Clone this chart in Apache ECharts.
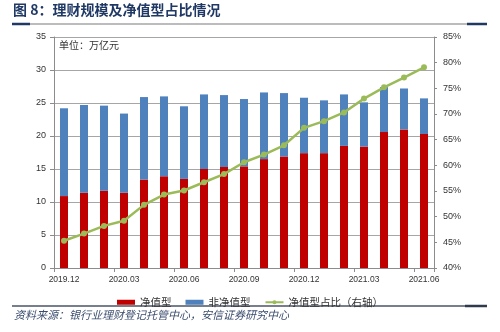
<!DOCTYPE html>
<html>
<head>
<meta charset="utf-8">
<script src="https://cdn.jsdelivr.net/npm/echarts@6/dist/echarts.min.js"></script>
<style>
  html, body { margin: 0; padding: 0; background: #fff; }
  #chart { width: 500px; height: 332px; }
</style>
</head>
<body>
<div id="chart"></div>
<script>
// Monthly periods, 2019.12 – 2021.06
const months = ['2019.12','2020.01','2020.02','2020.03','2020.04','2020.05','2020.06',
  '2020.07','2020.08','2020.09','2020.10','2020.11','2020.12','2021.01','2021.02',
  '2021.03','2021.04','2021.05','2021.06'];

// Net-value products (万亿元)
const netValue = [10.9, 11.4, 11.7, 11.4, 13.4, 13.9, 13.5, 15.0, 15.3, 15.4,
  16.5, 16.9, 17.4, 17.4, 18.5, 18.4, 20.6, 21.0, 20.3];

// Non-net-value products (万亿元)
const nonNetValue = [13.3, 13.3, 12.9, 12.0, 12.5, 12.1, 11.0, 11.3, 10.9, 10.2,
  10.1, 9.6, 8.4, 8.0, 7.8, 6.7, 6.8, 6.2, 5.4];

// Share of net-value products (%), right axis
const netShare = [45.3, 46.7, 48.2, 49.2, 52.3, 54.3, 55.1, 56.7, 58.3, 60.6,
  62.1, 63.9, 67.3, 68.6, 70.3, 73.0, 75.2, 77.1, 79.1];

const leftTicks = { min: 0, max: 35, interval: 5 };
const rightTicks = { min: 40, max: 85, interval: 5 };

const numFont = 'Liberation Sans, Arial, sans-serif';
const cjkFont = '"Noto Sans CJK SC", sans-serif';

const chart = echarts.init(document.getElementById('chart'), null, { renderer: 'canvas' });

chart.setOption({
  backgroundColor: '#ffffff',
  animation: false,
  grid: { left: 54, right: 66, top: 37, bottom: 64, containLabel: false },
  legend: {
    top: 292,
    left: 'center',
    itemWidth: 18,
    itemHeight: 5,
    itemGap: 14,
    textStyle: { fontFamily: cjkFont, fontSize: 10.5, color: '#333' },
    data: [
      { name: '净值型', icon: 'rect' },
      { name: '非净值型', icon: 'rect' },
      { name: '净值型占比（右轴）' }
    ]
  },
  xAxis: {
    type: 'category',
    data: months,
    boundaryGap: true,
    axisLine: { show: true, lineStyle: { color: '#8c8c8c', width: 1 } },
    axisTick: { show: true, interval: 2, length: 4, lineStyle: { color: '#8c8c8c' } },
    axisLabel: { interval: 2, fontFamily: numFont, fontSize: 8.5, color: '#333', margin: 7 },
    splitLine: { show: false }
  },
  yAxis: [
    {
      type: 'value',
      min: leftTicks.min, max: leftTicks.max, interval: leftTicks.interval,
      axisLine: { show: true, lineStyle: { color: '#8c8c8c' } },
      axisTick: { show: true, length: 4, lineStyle: { color: '#8c8c8c' } },
      axisLabel: { fontFamily: numFont, fontSize: 9, color: '#333', margin: 8 },
      splitLine: { show: true, lineStyle: { color: '#a6a6a6', width: 1 } }
    },
    {
      type: 'value',
      min: rightTicks.min, max: rightTicks.max, interval: rightTicks.interval,
      position: 'right',
      axisLine: { show: true, lineStyle: { color: '#8c8c8c' } },
      axisTick: { show: true, length: 3, lineStyle: { color: '#8c8c8c' } },
      axisLabel: { formatter: '{value}%', fontFamily: numFont, fontSize: 9, color: '#333', margin: 9 },
      splitLine: { show: false }
    }
  ],
  series: [
    {
      name: '净值型',
      type: 'bar',
      stack: 'scale',
      data: netValue,
      barWidth: 8,
      itemStyle: { color: '#c00000' }
    },
    {
      name: '非净值型',
      type: 'bar',
      stack: 'scale',
      data: nonNetValue,
      barWidth: 8,
      itemStyle: { color: '#4f81bd' }
    },
    {
      name: '净值型占比（右轴）',
      type: 'line',
      yAxisIndex: 1,
      data: netShare,
      symbol: 'circle',
      symbolSize: 6,
      lineStyle: { color: '#9bbb59', width: 2.5 },
      itemStyle: { color: '#9bbb59' },
      z: 5
    }
  ],
  graphic: [
    // Heading
    {
      type: 'text', left: 13, top: 3,
      style: { text: '图 8：理财规模及净值型占比情况', font: 'bold 14px "Noto Sans CJK SC", sans-serif', fill: '#1f3864' }
    },
    { type: 'line', shape: { x1: 12, y1: 24, x2: 487, y2: 24 }, style: { stroke: '#a6a6a6', lineWidth: 1.5 } },
    { type: 'line', shape: { x1: 12, y1: 24, x2: 30, y2: 24 }, style: { stroke: '#1f3864', lineWidth: 2.5 } },
    { type: 'line', shape: { x1: 467, y1: 24, x2: 487, y2: 24 }, style: { stroke: '#1f3864', lineWidth: 2.5 } },
    // Unit note inside the plot
    {
      type: 'text', left: 57, top: 39, z: 10,
      style: {
        text: '单位：万亿元', font: '10px "Noto Sans CJK SC", sans-serif', fill: '#333',
        backgroundColor: '#ffffff', padding: [1, 3, 1, 2]
      }
    },
    // Source line
    { type: 'line', shape: { x1: 12, y1: 306, x2: 487, y2: 306 }, style: { stroke: '#4a5566', lineWidth: 1.5 } },
    { type: 'line', shape: { x1: 465, y1: 306, x2: 487, y2: 306 }, style: { stroke: '#2f3b4a', lineWidth: 2.5 } },
    {
      type: 'text', left: 14, top: 309,
      style: { text: '资料来源：银行业理财登记托管中心，安信证券研究中心', font: 'italic 11px "Noto Sans CJK SC", sans-serif', fill: '#3b4d6e' }
    }
  ]
});
</script>
</body>
</html>
